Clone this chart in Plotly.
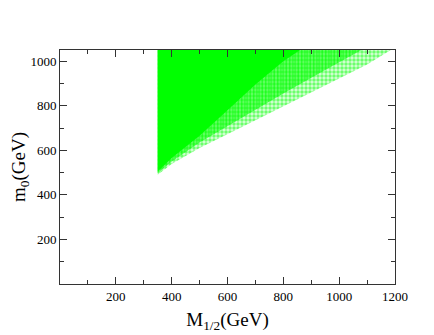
import plotly.graph_objects as go

# Boundary of the allowed region (M_1/2, m_0 in GeV)
# Outer (sparse) envelope
outer_m12 = [350, 350, 400, 500, 650, 800, 950, 1100, 1185, 350]
outer_m0 = [1050, 490, 538, 610, 703, 798, 893, 985, 1050, 1050]
# Medium-density region
mid_m12 = [350, 350, 400, 500, 650, 800, 950, 1080, 350]
mid_m0 = [1050, 498, 550, 635, 745, 855, 960, 1050, 1050]
# Solid core region
core_m12 = [350, 350, 400, 500, 600, 700, 800, 860, 350]
core_m0 = [1050, 505, 565, 665, 780, 895, 1000, 1050, 1050]

x_ticks = [0, 200, 400, 600, 800, 1000, 1200]
x_text = ["", "200", "400", "600", "800", "1000", "1200"]
y_ticks = [0, 200, 400, 600, 800, 1000]
y_text = ["", "200", "400", "600", "800", "1000"]

fig = go.Figure()
fig.add_trace(go.Scatter(x=outer_m12, y=outer_m0, mode="lines", fill="toself",
                         line=dict(width=0), fillcolor="rgba(0,0,0,0)",
                         fillpattern=dict(shape=".", fgcolor="#00ff00", bgcolor="rgba(0,255,0,0.15)",
                                          size=4, solidity=0.6),
                         hoverinfo="skip", showlegend=False))
fig.add_trace(go.Scatter(x=mid_m12, y=mid_m0, mode="lines", fill="toself",
                         line=dict(width=0), fillcolor="rgba(0,0,0,0)",
                         fillpattern=dict(shape="|", fgcolor="#00ff00", bgcolor="rgba(0,255,0,0.4)",
                                          size=3, solidity=0.65),
                         hoverinfo="skip", showlegend=False))
fig.add_trace(go.Scatter(x=core_m12, y=core_m0, mode="lines", fill="toself",
                         line=dict(width=0), fillcolor="#00ff00",
                         hoverinfo="skip", showlegend=False))

font = "Liberation Serif"
axis_common = dict(showline=True, linecolor="#333", linewidth=1, mirror="ticks",
                   ticks="inside", ticklen=7, tickcolor="#333", tickwidth=1,
                   showgrid=False, zeroline=False, automargin=False,
                   tickfont=dict(family=font, size=13, color="#000"),
                   tickmode="array",
                   minor=dict(ticks="inside", ticklen=4, tickcolor="#333",
                              tickmode="linear", tick0=0, dtick=100, showgrid=False))

fig.update_xaxes(range=[0, 1200], tickvals=x_ticks, ticktext=x_text,
                 title=dict(text="M<sub>1/2</sub>(GeV)", font=dict(family=font, size=19, color="#000"),
                            standoff=10),
                 **axis_common)
fig.update_yaxes(range=[0, 1050], tickvals=y_ticks, ticktext=y_text,
                 title=dict(text="m<sub>0</sub>(GeV)", font=dict(family=font, size=19, color="#000"),
                            standoff=11),
                 **axis_common)

# page body has an 8px margin, so offsets are compensated in the margins
fig.update_layout(width=434, height=335, margin=dict(l=52, r=47, t=42, b=59),
                  font=dict(family=font, color="#000"),
                  paper_bgcolor="white", plot_bgcolor="white")

fig.write_html("out.html")
